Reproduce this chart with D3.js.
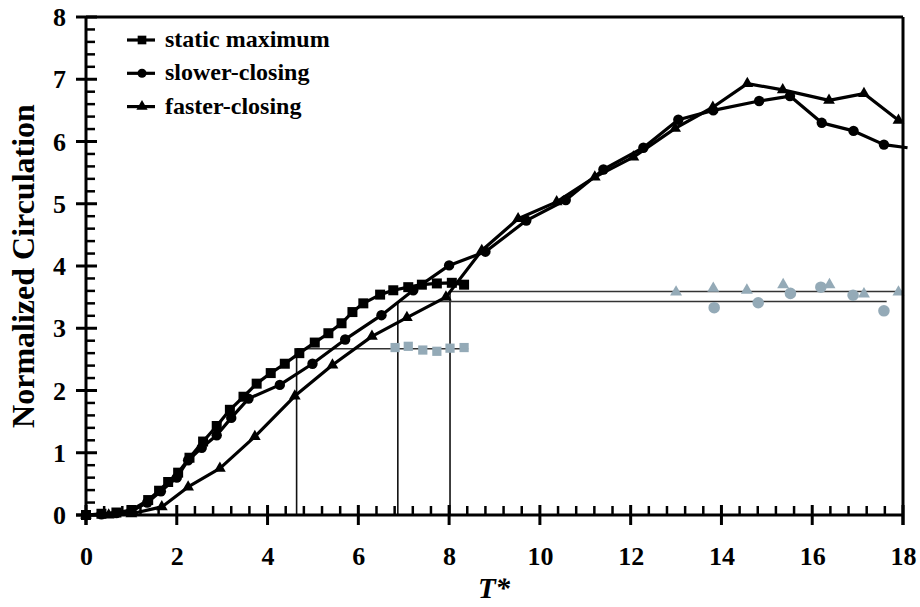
<!DOCTYPE html>
<html>
<head>
<meta charset="utf-8">
<script src="https://cdn.jsdelivr.net/npm/d3@7"></script>
<style>
  html, body { margin: 0; padding: 0; background: #fff; }
  svg { display: block; }
</style>
</head>
<body>
<div id="chart"></div>
<script>
/* Normalized circulation vs T* — D3 v7 */

// ── Data ────────────────────────────────────────────────────────────────────
var staticT = [0, 0.34, 0.67, 1.0, 1.37, 1.61, 1.81, 2.03, 2.28, 2.58, 2.88, 3.17, 3.47, 3.76, 4.07, 4.38, 4.70, 5.04, 5.34, 5.63, 5.87, 6.11, 6.48, 6.77, 7.1, 7.4, 7.73, 8.06, 8.33];
var staticY = [0, 0.02, 0.04, 0.08, 0.24, 0.39, 0.53, 0.68, 0.92, 1.18, 1.43, 1.69, 1.9, 2.11, 2.28, 2.43, 2.6, 2.77, 2.92, 3.08, 3.26, 3.40, 3.54, 3.61, 3.66, 3.70, 3.72, 3.73, 3.70];

var slowerT = [0, 0.34, 0.67, 1.0, 1.35, 1.65, 2.0, 2.25, 2.55, 2.88, 3.2, 3.58, 4.27, 4.99, 5.71, 6.51, 7.21, 8.0, 8.8, 9.7, 10.57, 11.4, 12.28, 13.05, 13.82, 14.83, 15.51, 16.21, 16.91, 17.58, 18.1];
var slowerY = [0, 0.01, 0.03, 0.06, 0.2, 0.38, 0.6, 0.88, 1.08, 1.28, 1.56, 1.87, 2.09, 2.43, 2.82, 3.21, 3.61, 4.01, 4.23, 4.73, 5.06, 5.55, 5.9, 6.35, 6.5, 6.65, 6.73, 6.3, 6.17, 5.95, 5.9];

var fasterT = [0, 0.5, 1.0, 1.67, 2.25, 2.95, 3.72, 4.6, 5.43, 6.3, 7.07, 7.93, 8.72, 9.52, 10.37, 11.21, 12.06, 12.98, 13.81, 14.57, 15.35, 16.37, 17.14, 17.9];
var fasterY = [0, 0, 0.02, 0.13, 0.45, 0.75, 1.26, 1.91, 2.41, 2.87, 3.17, 3.5, 4.25, 4.76, 5.03, 5.43, 5.75, 6.21, 6.55, 6.93, 6.83, 6.66, 6.77, 6.34];

// grey (steady-state) markers
var greySqT = [6.81, 7.1, 7.42, 7.73, 8.02, 8.33];
var greySqY = [2.69, 2.71, 2.65, 2.63, 2.68, 2.69];
var greyCiT = [13.84, 14.81, 15.52, 16.19, 16.9, 17.58];
var greyCiY = [3.33, 3.41, 3.56, 3.66, 3.53, 3.28];
var greyTrT = [13.0, 13.82, 14.56, 15.36, 16.38, 17.14, 17.9];
var greyTrY = [3.58, 3.64, 3.61, 3.70, 3.70, 3.55, 3.58];

// thin guide lines: vertical drops and horizontal levels
var dropT    = [4.64, 6.87, 8.02];
var dropTop  = [2.67, 3.43, 3.59];
var levelY   = [2.67, 3.43, 3.59];
var levelT0  = [4.64, 6.87, 8.02];
var levelT1  = [8.42, 17.64, 18];

var xMajor = [0, 2, 4, 6, 8, 10, 12, 14, 16, 18];
var yMajor = [0, 1, 2, 3, 4, 5, 6, 7, 8];
var legendNames = ["static maximum", "slower-closing", "faster-closing"];

// ── Layout ──────────────────────────────────────────────────────────────────
var W = 920, H = 607;
var margin = { top: 17, right: 17, bottom: 92, left: 86 };
var iW = W - margin.left - margin.right;
var iH = H - margin.top - margin.bottom;
var FONT = "'Liberation Serif','Times New Roman',serif";
var GREY = "#94aab7";

var svg = d3.select("#chart").append("svg").attr("width", W).attr("height", H);
var g = svg.append("g").attr("transform", "translate(" + margin.left + "," + margin.top + ")");

var x = d3.scaleLinear().domain([0, 18]).range([0, iW]);
var y = d3.scaleLinear().domain([0, 8]).range([iH, 0]);

function pts(ts, ys) { return ts.map(function (t, i) { return [t, ys[i]]; }); }

// ── Guide lines ─────────────────────────────────────────────────────────────
g.selectAll(".drop").data(dropT).enter().append("line")
  .attr("x1", function (d) { return x(d); }).attr("x2", function (d) { return x(d); })
  .attr("y1", y(0)).attr("y2", function (d, i) { return y(dropTop[i]); })
  .attr("stroke", "#111").attr("stroke-width", 1.6);
g.selectAll(".level").data(levelY).enter().append("line")
  .attr("x1", function (d, i) { return x(levelT0[i]); })
  .attr("x2", function (d, i) { return x(levelT1[i]); })
  .attr("y1", function (d) { return y(d); }).attr("y2", function (d) { return y(d); })
  .attr("stroke", "#333").attr("stroke-width", 1.6);

// ── Grey markers ────────────────────────────────────────────────────────────
function drawMarkers(data, type, size, fill) {
  var sym = d3.symbol().type(type).size(size);
  g.append("g").selectAll("path").data(data).enter().append("path")
    .attr("transform", function (d) { return "translate(" + x(d[0]) + "," + y(d[1]) + ")"; })
    .attr("d", sym).attr("fill", fill);
}
drawMarkers(pts(greySqT, greySqY), d3.symbolSquare, 85, GREY);
drawMarkers(pts(greyCiT, greyCiY), d3.symbolCircle, 105, GREY);
drawMarkers(pts(greyTrT, greyTrY), d3.symbolTriangle, 62, GREY);

// ── Series ──────────────────────────────────────────────────────────────────
var line = d3.line().x(function (d) { return x(d[0]); }).y(function (d) { return y(d[1]); });
var series = [
  { pts: pts(staticT, staticY), type: d3.symbolSquare,   size: 100 },
  { pts: pts(slowerT, slowerY), type: d3.symbolCircle,   size: 85 },
  { pts: pts(fasterT, fasterY), type: d3.symbolTriangle, size: 60 }
];
series.forEach(function (s) {
  g.append("path").datum(s.pts).attr("d", line)
    .attr("fill", "none").attr("stroke", "#000").attr("stroke-width", 3.2)
    .attr("stroke-linejoin", "round");
  // the last slower-closing point only carries the line off the frame
  var marked = s.pts.filter(function (d) { return d[0] <= 18; });
  drawMarkers(marked, s.type, s.size, "#000");
});

// ── Frame & axes ────────────────────────────────────────────────────────────
g.append("line").attr("x1", 0).attr("x2", iW).attr("y1", 0).attr("y2", 0)
  .attr("stroke", "#000").attr("stroke-width", 3);
g.append("line").attr("x1", iW).attr("x2", iW).attr("y1", 0).attr("y2", iH + 10)
  .attr("stroke", "#000").attr("stroke-width", 3);
g.append("line").attr("x1", 0).attr("x2", 0).attr("y1", 0).attr("y2", iH + 10)
  .attr("stroke", "#000").attr("stroke-width", 3);
g.append("line").attr("x1", -10).attr("x2", iW).attr("y1", iH).attr("y2", iH)
  .attr("stroke", "#000").attr("stroke-width", 3);

var xMinor = d3.range(0.4, 18, 0.4).filter(function (v) { return Math.abs(v / 2 - Math.round(v / 2)) > 0.01; });
var yMinor = d3.range(0.2, 8, 0.2).filter(function (v) { return Math.abs(v - Math.round(v)) > 0.01; });

g.selectAll(".xmin").data(xMinor).enter().append("line")
  .attr("x1", function (d) { return x(d); }).attr("x2", function (d) { return x(d); })
  .attr("y1", iH).attr("y2", iH - 9).attr("stroke", "#000").attr("stroke-width", 2.5);
g.selectAll(".xmaj").data(xMajor).enter().append("line")
  .attr("x1", function (d) { return x(d); }).attr("x2", function (d) { return x(d); })
  .attr("y1", iH - 10).attr("y2", iH + 10).attr("stroke", "#000").attr("stroke-width", 3);
g.selectAll(".ymin").data(yMinor).enter().append("line")
  .attr("x1", 0).attr("x2", 9)
  .attr("y1", function (d) { return y(d); }).attr("y2", function (d) { return y(d); })
  .attr("stroke", "#000").attr("stroke-width", 2.5);
g.selectAll(".ymaj").data(yMajor).enter().append("line")
  .attr("x1", -10).attr("x2", 11)
  .attr("y1", function (d) { return y(d); }).attr("y2", function (d) { return y(d); })
  .attr("stroke", "#000").attr("stroke-width", 3);

// tick labels through d3 axes (tick lines drawn above)
var gX = g.append("g").attr("transform", "translate(0," + iH + ")")
  .call(d3.axisBottom(x).tickValues(xMajor).tickSize(0).tickPadding(0).tickFormat(d3.format("d")));
var gY = g.append("g")
  .call(d3.axisLeft(y).tickValues(yMajor).tickSize(0).tickPadding(0).tickFormat(d3.format("d")));
[gX, gY].forEach(function (ax) {
  ax.select(".domain").remove();
  ax.selectAll("text").attr("fill", "#000")
    .style("font-family", FONT).style("font-weight", "bold").style("font-size", "26px");
});
gX.selectAll("text").attr("dy", null).attr("y", 50);
gY.selectAll("text").attr("dy", "0.33em").attr("x", -20);

// ── Axis titles ─────────────────────────────────────────────────────────────
svg.append("text").attr("transform", "translate(34," + 266 + ") rotate(-90)")
  .attr("text-anchor", "middle").attr("fill", "#000")
  .style("font-family", FONT).style("font-weight", "bold").style("font-size", "32px")
  .text("Normalized Circulation");
svg.append("text").attr("x", 494).attr("y", 598)
  .attr("text-anchor", "middle").attr("fill", "#000")
  .style("font-family", FONT).style("font-weight", "bold").style("font-style", "italic")
  .style("font-size", "29px").text("T*");

// ── Legend ──────────────────────────────────────────────────────────────────
var leg = svg.append("g");
var legTypes = [d3.symbolSquare, d3.symbolCircle, d3.symbolTriangle];
var legSizes = [75, 65, 55];
legendNames.forEach(function (name, i) {
  var ly = 40 + i * 33.3;
  leg.append("line").attr("x1", 127).attr("x2", 155).attr("y1", ly).attr("y2", ly)
    .attr("stroke", "#000").attr("stroke-width", 3.2);
  leg.append("path").attr("transform", "translate(142," + ly + ")")
    .attr("d", d3.symbol().type(legTypes[i]).size(legSizes[i])).attr("fill", "#000");
  leg.append("text").attr("x", 165).attr("y", ly + 7).attr("fill", "#000")
    .style("font-family", FONT).style("font-weight", "bold").style("font-size", "24px")
    .text(name);
});
</script>
</body>
</html>
